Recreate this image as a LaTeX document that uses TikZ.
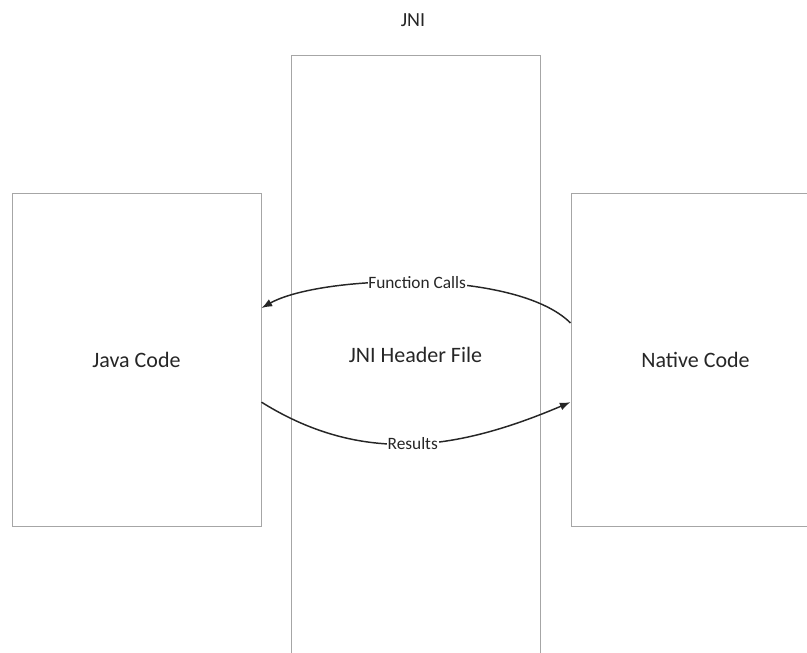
\documentclass[tikz,border=0pt]{standalone}
\usepackage{fontspec}
\setmainfont{Carlito}
\usetikzlibrary{positioning, arrows.meta}
\definecolor{boxgray}{HTML}{A6A6A6}
\definecolor{inkgray}{HTML}{262626}

\begin{document}
\begin{tikzpicture}[x=0.75pt, y=-0.75pt, node distance=23pt,
  box/.style={draw=boxgray, line width=0.75pt, inner sep=0pt, minimum width=186.75pt, text=inkgray, font=\fontsize{16.5}{19}\selectfont},
  call/.style={-{Latex[length=8pt,width=6pt]}, draw=inkgray, line width=1.1pt},
  lbl/.style={fill=white, inner sep=0.6pt, text=inkgray, font=\fontsize{13}{15}\selectfont}]
\useasboundingbox (0,0) rectangle (807,653);
\clip (0,0) rectangle (807,653);
\node (title) [text=inkgray, font=\fontsize{15}{17}\selectfont] at (413,20) {JNI};
\node (java) [box, minimum height=249.75pt] at (136.5,359.5) {Java Code};
\node (header) [box, minimum height=450pt] at (415.5,355) {JNI Header File};
\node (native) [box, minimum height=249.75pt] at (695.5,359.5) {Native Code};
\draw[call] ([yshift=27.4pt]native.west) .. controls (515,268) and (320,275) ..
  node[lbl, pos=0.5] {Function Calls} ([yshift=38.6pt]java.east);
\draw[call] ([yshift=-32pt]java.east) to[out=-32, in=-157]
  node[lbl, pos=0.5] {Results} ([yshift=-32pt]native.west);
\end{tikzpicture}
\end{document}
